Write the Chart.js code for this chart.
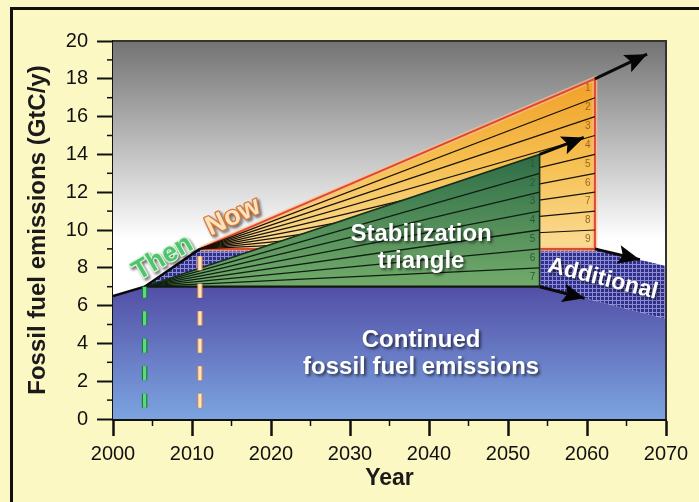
<!DOCTYPE html>
<html><head><meta charset="utf-8">
<script src="https://cdn.jsdelivr.net/npm/chart.js@4.4.0/dist/chart.umd.min.js"></script>
<style>
html,body{margin:0;padding:0;background:#FCF8C4;overflow:hidden;}
#wrap{position:relative;width:699px;height:502px;overflow:hidden;}
#frame{position:absolute;left:10px;top:7px;width:740px;height:540px;border:3px solid #111;box-sizing:border-box;}
canvas{position:absolute;left:0;top:0;}
</style></head><body>
<div id="wrap"><div id="frame"></div><canvas id="c" width="699" height="502"></canvas></div>
<script>
// ---------- data ----------
const historyYears = [2000, 2004, 2011];
const historyValues = [6.5, 7.0, 9.0];
const baselineYears = [2000, 2004, 2054, 2070];
const baselineValues = [6.5, 7.0, 7.0, 5.3];
const additionalYears = [2004, 2011, 2061, 2070];
const additionalValues = [7.0, 9.0, 9.0, 8.1];
const greenStart = [2004, 7.0];
const greenEndYear = 2054;
const greenLevels = [7, 8, 9, 10, 11, 12, 13, 14];
const orangeStart = [2011, 9.0];
const orangeEndYear = 2061;
const orangeLevels = [9, 10, 11, 12, 13, 14, 15, 16, 17, 18];
const arrowStartYears = [2061, 2054, 2061, 2054];
const arrowStartValues = [18, 14, 9, 7];
const arrowTipYears = [2067.6, 2059.6, 2066.7, 2059.7];
const arrowTipValues = [19.3, 14.9, 8.43, 6.39];
const markerYears = [2004, 2011];
const markerTops = [7.0, 8.8];
const markerBottom = 0.6;
const labelTexts = ['Then', 'Now', 'Stabilization', 'triangle', 'Continued', 'fossil fuel emissions', 'Additional'];
const labelYears = [2006.3, 2015.2, 2039.0, 2039.0, 2039.0, 2039.0, 2062.0];
const labelValues = [8.52, 10.69, 9.79, 8.36, 4.18, 2.75, 7.41];
const xTitle = 'Year';
const yTitle = 'Fossil fuel emissions (GtC/y)';

// ---------- styles ----------
const FONT = '"Liberation Sans", Arial, Helvetica, sans-serif';
const labelStyles = [
  {size: 27, rot: -30, fill: '#4FC46C', stroke: '#D8F5D8', sw: 2.5},
  {size: 27, rot: -25, fill: '#FCE3BC', stroke: '#D9773C', sw: 2.5},
  {size: 24, rot: 0, fill: '#FFFFFF'},
  {size: 24, rot: 0, fill: '#FFFFFF'},
  {size: 24, rot: 0, fill: '#FFFFFF'},
  {size: 24, rot: 0, fill: '#FFFFFF'},
  {size: 23, rot: 14, fill: '#FFFFFF'}
];

const pts = (xs, ys) => xs.map((x, i) => ({x, y: ys[i]}));
const canvas = document.getElementById('c');
const ctx0 = canvas.getContext('2d');

// hatch pattern
const pc = document.createElement('canvas'); pc.width = 4; pc.height = 4;
const pg = pc.getContext('2d');
pg.fillStyle = '#30308A'; pg.fillRect(0, 0, 4, 4);
pg.fillStyle = '#8C8CD4'; pg.fillRect(0, 0, 4, 1); pg.fillRect(0, 0, 1, 4);
const hatch = ctx0.createPattern(pc, 'repeat');

function vGrad(vTop, vBot, stops) {
  return (c) => {
    const ch = c.chart;
    if (!ch.chartArea) return stops[0][1];
    const y = ch.scales.y;
    const g = ch.ctx.createLinearGradient(0, y.getPixelForValue(vTop), 0, y.getPixelForValue(vBot));
    stops.forEach(s => g.addColorStop(s[0], s[1]));
    return g;
  };
}

const ds = [];
function add(d) {
  ds.push(Object.assign({pointRadius: 0, pointHoverRadius: 0, tension: 0, fill: false,
    borderWidth: 0, borderColor: 'rgba(0,0,0,0)', backgroundColor: 'rgba(0,0,0,0)'}, d));
  return ds.length - 1;
}

// baseline (continued emissions)
const iBase = add({data: pts(baselineYears, baselineValues), fill: 'origin',
  backgroundColor: vGrad(7, 0, [[0, '#524FA6'], [1, '#7CA4E0']])});
// additional hatch
add({data: pts(additionalYears, additionalValues), fill: iBase, backgroundColor: hatch});

// orange wedge
const oEnd = orangeLevels.length - 1;
const iOLow = add({data: [{x: orangeStart[0], y: orangeStart[1]}, {x: orangeEndYear, y: orangeLevels[0]}]});
add({data: [{x: orangeStart[0], y: orangeStart[1]}, {x: orangeEndYear, y: orangeLevels[oEnd]}], fill: iOLow,
  backgroundColor: vGrad(orangeLevels[oEnd], orangeLevels[0], [[0, '#F1A028'], [0.5, '#F6C052'], [1, '#FADC94']])});
const orangeOutline = [{x: orangeStart[0], y: orangeStart[1]}, {x: orangeEndYear, y: orangeLevels[oEnd]},
  {x: orangeEndYear, y: orangeLevels[0]}, {x: orangeStart[0], y: orangeStart[1]}];
add({data: orangeOutline, borderColor: 'rgba(255,190,150,0.7)', borderWidth: 5});
add({data: orangeOutline, borderColor: '#DC4B2A', borderWidth: 2});
for (let j = 1; j < oEnd; j++) {
  add({data: [{x: orangeStart[0], y: orangeStart[1]}, {x: orangeEndYear, y: orangeLevels[j]}], borderColor: '#1A1208', borderWidth: 1.2});
}

// green wedge
const gEnd = greenLevels.length - 1;
const iGLow = add({data: [{x: greenStart[0], y: greenStart[1]}, {x: greenEndYear, y: greenLevels[0]}]});
add({data: [{x: greenStart[0], y: greenStart[1]}, {x: greenEndYear, y: greenLevels[gEnd]}], fill: iGLow,
  backgroundColor: vGrad(greenLevels[gEnd], greenLevels[0], [[0, '#2E6C46'], [1, '#72AB6B']])});
for (let j = 1; j < gEnd; j++) {
  add({data: [{x: greenStart[0], y: greenStart[1]}, {x: greenEndYear, y: greenLevels[j]}], borderColor: '#0F1F12', borderWidth: 1.3});
}
add({data: [{x: greenStart[0], y: greenStart[1]}, {x: greenEndYear, y: greenLevels[gEnd]},
  {x: greenEndYear, y: greenLevels[0]}], borderColor: '#17301D', borderWidth: 1.6});
add({data: [{x: greenStart[0], y: greenStart[1]}, {x: greenEndYear, y: greenLevels[0]}], borderColor: '#10180F', borderWidth: 2.2});

// history line
add({data: pts(historyYears, historyValues), borderColor: '#0A0A0A', borderWidth: 2.5});

// arrows
const arrowIdx = [];
for (let k = 0; k < arrowStartYears.length; k++) {
  arrowIdx.push(add({data: [{x: arrowStartYears[k], y: arrowStartValues[k]}, {x: arrowTipYears[k], y: arrowTipValues[k]}],
    borderColor: '#0A0A0A', borderWidth: 3}));
}

// dashed markers
const markerOuter = ['#1F7A3A', '#D8823E'];
const markerInner = ['#58DB7C', '#FDE6C2'];
for (let k = 0; k < markerYears.length; k++) {
  const d = [{x: markerYears[k], y: markerBottom}, {x: markerYears[k], y: markerTops[k]}];
  add({data: d, borderColor: markerOuter[k], borderWidth: 5.5, borderDash: [14, 13.5], borderCapStyle: 'butt'});
  add({data: d, borderColor: markerInner[k], borderWidth: 3.2, borderDash: [14, 13.5], borderCapStyle: 'butt'});
}

ds.forEach((d, i) => { d.order = ds.length - i; });

const decor = {
  id: 'decor',
  beforeDatasetsDraw(chart) {
    const {ctx, chartArea: a, scales: {y}} = chart;
    const g = ctx.createLinearGradient(0, y.getPixelForValue(20), 0, y.getPixelForValue(9.5));
    g.addColorStop(0, '#737373'); g.addColorStop(1, '#FFFFFF');
    ctx.save(); ctx.fillStyle = g; ctx.fillRect(a.left, a.top, a.width, a.height); ctx.restore();
  },
  afterDatasetsDraw(chart) {
    const {ctx, scales: {x, y}} = chart;
    ctx.save();
    // arrowheads
    arrowIdx.forEach(i => {
      const m = chart.getDatasetMeta(i);
      const p0 = m.data[0], p1 = m.data[1];
      const ang = Math.atan2(p1.y - p0.y, p1.x - p0.x);
      const L = 22, W = 9.5;
      ctx.save(); ctx.translate(p1.x, p1.y); ctx.rotate(ang);
      ctx.fillStyle = '#050505';
      ctx.beginPath(); ctx.moveTo(0, 0); ctx.lineTo(-L, -W); ctx.lineTo(-L * 0.8, 0); ctx.lineTo(-L, W); ctx.closePath(); ctx.fill();
      ctx.restore();
    });
    // wedge numbers
    ctx.font = '10px ' + FONT; ctx.textAlign = 'center'; ctx.textBaseline = 'middle';
    const gn = greenLevels.length - 1;
    ctx.fillStyle = '#2A5A36';
    for (let j = 0; j < gn; j++) {
      const mid = (greenLevels[j] + greenLevels[j + 1]) / 2;
      ctx.fillText(String(gn - j), x.getPixelForValue(greenEndYear - 0.9), y.getPixelForValue(mid));
    }
    const on = orangeLevels.length - 1;
    ctx.fillStyle = '#9A6428';
    for (let j = 0; j < on; j++) {
      const mid = (orangeLevels[j] + orangeLevels[j + 1]) / 2;
      ctx.fillText(String(on - j), x.getPixelForValue(orangeEndYear - 0.9), y.getPixelForValue(mid));
    }
    // labels
    labelTexts.forEach((t, i) => {
      const s = labelStyles[i];
      ctx.save();
      ctx.translate(x.getPixelForValue(labelYears[i]), y.getPixelForValue(labelValues[i]));
      ctx.rotate(s.rot * Math.PI / 180);
      ctx.font = 'bold ' + s.size + 'px ' + FONT;
      ctx.textAlign = 'center'; ctx.textBaseline = 'middle';
      ctx.shadowColor = 'rgba(0,0,0,0.6)'; ctx.shadowBlur = 3; ctx.shadowOffsetX = 2; ctx.shadowOffsetY = 2;
      if (s.stroke) {
        ctx.lineJoin = 'round'; ctx.lineWidth = s.sw; ctx.strokeStyle = s.stroke; ctx.strokeText(t, 0, 0);
        ctx.shadowColor = 'rgba(0,0,0,0)';
      }
      ctx.fillStyle = s.fill; ctx.fillText(t, 0, 0);
      ctx.restore();
    });
    ctx.restore();
  },
  afterDraw(chart) {
    const {ctx, chartArea: a, scales: {x, y}} = chart;
    ctx.save();
    ctx.strokeStyle = '#111'; ctx.lineWidth = 1.5;
    for (let v = 1; v < 20; v += 2) {
      const py = y.getPixelForValue(v);
      ctx.beginPath(); ctx.moveTo(a.left - 6, py); ctx.lineTo(a.left, py); ctx.stroke();
    }
    for (let v = 2005; v < 2070; v += 10) {
      const px = x.getPixelForValue(v);
      ctx.beginPath(); ctx.moveTo(px, a.bottom); ctx.lineTo(px, a.bottom + 7); ctx.stroke();
    }
    ctx.strokeStyle = '#333'; ctx.lineWidth = 2;
    ctx.beginPath(); ctx.moveTo(a.left, a.top); ctx.lineTo(a.right, a.top); ctx.lineTo(a.right, a.bottom); ctx.stroke();
    ctx.restore();
  }
};

Chart.defaults.font.family = FONT;
new Chart(canvas, {
  type: 'line',
  data: {datasets: ds},
  plugins: [decor],
  options: {
    responsive: false, animation: false, devicePixelRatio: 1,
    layout: {padding: {top: 41, right: 33, left: 0, bottom: 0}},
    plugins: {legend: {display: false}, tooltip: {enabled: false}},
    events: [],
    scales: {
      x: {
        type: 'linear', min: 2000, max: 2070, z: 1,
        ticks: {stepSize: 5, autoSkip: false, maxRotation: 0, padding: 6, color: '#111', font: {size: 20},
          callback: v => (v % 10 === 0 ? String(v) : '')},
        grid: {drawOnChartArea: false, drawTicks: true, tickLength: 17, tickWidth: 2.5,
          tickColor: c => (c.tick && c.tick.value % 10 === 0 ? '#111' : 'rgba(0,0,0,0)')},
        border: {display: true, color: '#111', width: 3},
        title: {display: true, text: xTitle, color: '#1A1A1A', font: {size: 23, weight: 'bold'}, padding: {top: 0, bottom: 10}},
        afterFit: s => { s.height = 83; }
      },
      y: {
        type: 'linear', min: 0, max: 20, z: 1,
        ticks: {stepSize: 1, autoSkip: false, padding: 9, color: '#111', font: {size: 20},
          callback: v => (v % 2 === 0 ? String(v) : '')},
        grid: {drawOnChartArea: false, drawTicks: true, tickLength: 16, tickWidth: 2,
          tickColor: c => (c.tick && c.tick.value % 2 === 0 ? '#111' : 'rgba(0,0,0,0)')},
        border: {display: true, color: '#111', width: 2.5},
        title: {display: true, text: yTitle, color: '#1A1A1A', font: {size: 24, weight: 'bold'}, padding: {top: 24, bottom: 0}},
        afterFit: s => { s.width = 113; }
      }
    }
  }
});
</script>
</body></html>
